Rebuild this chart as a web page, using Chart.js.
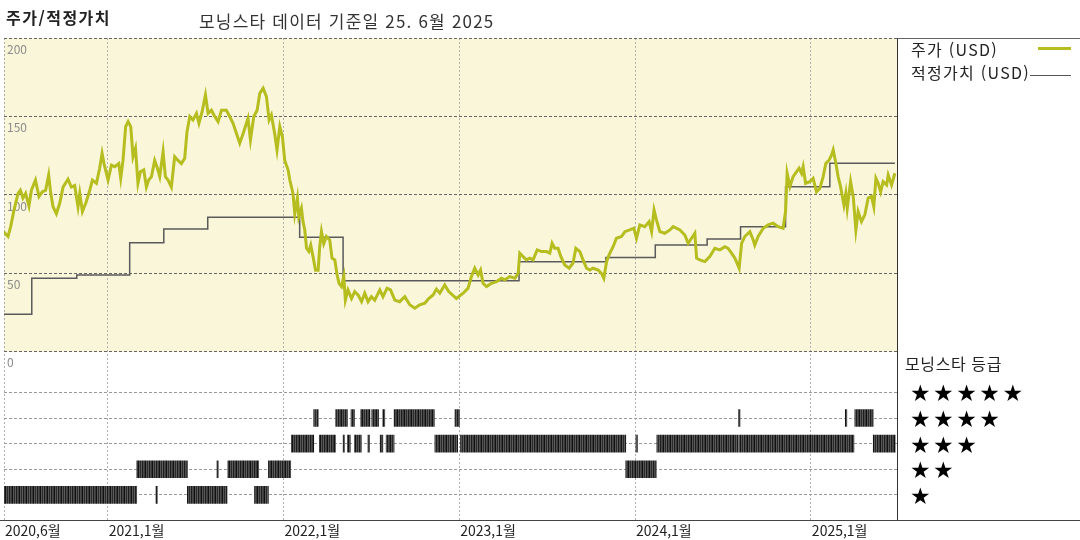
<!DOCTYPE html>
<html lang="ko">
<head>
<meta charset="utf-8">
<script src="https://cdn.jsdelivr.net/npm/chart.js@4.4.1/dist/chart.umd.min.js"></script>
<style>
  body { margin: 0; background: #fff; font-family: 'Noto Sans CJK KR', sans-serif; }
  #wrap { position: relative; width: 1080px; height: 540px; overflow: hidden; }
  #chart { position: absolute; left: 0; top: 0; }
  .t { position: absolute; white-space: nowrap; color: #222; line-height: 1; }
  .stars { position: absolute; left: 910px; font-family: 'DejaVu Sans', sans-serif; font-size: 23px; letter-spacing: 2.5px; line-height: 1; color: #000; }
</style>
</head>
<body>
<div id="wrap">
  <canvas id="chart" width="1080" height="540"></canvas>

  <div class="t" style="left:6px; top:9px; font-size:16px; font-weight:bold; letter-spacing:1.5px;">주가/적정가치</div>
  <div class="t" style="left:199px; top:12px; font-size:17px; letter-spacing:1.2px; color:#333;">모닝스타 데이터 기준일 25. 6월 2025</div>

  <!-- right side panel -->
  <div style="position:absolute; left:897px; top:38px; width:183px; height:482px; border-top:1px solid #666; border-left:1px solid #333;"></div>
  <div style="position:absolute; left:0; top:520px; width:1080px; height:1px; background:#444;"></div>

  <div class="t" style="left:911px; top:41px; font-size:16px; letter-spacing:1.3px;">주가 (USD)</div>
  <div style="position:absolute; left:1038px; top:47px; width:33px; height:3px; background:#b5bd1f;"></div>
  <div class="t" style="left:911px; top:64px; font-size:16px; letter-spacing:1.3px;">적정가치 (USD)</div>
  <div style="position:absolute; left:1030px; top:75px; width:41px; height:1px; background:#555;"></div>

  <div class="t" style="left:905px; top:355px; font-size:16px; letter-spacing:0.6px;">모닝스타 등급</div>
  <div class="stars" style="top:382px;">★★★★★</div>
  <div class="stars" style="top:408px;">★★★★</div>
  <div class="stars" style="top:434px;">★★★</div>
  <div class="stars" style="top:459px;">★★</div>
  <div class="stars" style="top:485px;">★</div>
</div>

<script>
// x values are decimal years
var xMin = 2020.41, xMax = 2025.49;
var xTickValues = [2020.41, 2021, 2022, 2023, 2024, 2025];
var xTickLabels = ['2020,6월', '2021,1월', '2022,1월', '2023,1월', '2024,1월', '2025,1월'];
var priceTicks = [0, 50, 100, 150, 200];
var starRows = [1, 2, 3, 4, 5];

// share price (USD)
var priceDates = [
  2020.408, 2020.433, 2020.448, 2020.465, 2020.490, 2020.503, 2020.518, 2020.533, 2020.552, 2020.566,
  2020.589, 2020.609, 2020.628, 2020.647, 2020.664, 2020.676, 2020.689, 2020.708, 2020.727, 2020.746,
  2020.774, 2020.793, 2020.812, 2020.831, 2020.841, 2020.856, 2020.875, 2020.898, 2020.913, 2020.936,
  2020.954, 2020.968, 2020.979, 2021.002, 2021.021, 2021.040, 2021.063, 2021.074, 2021.087, 2021.102,
  2021.116, 2021.131, 2021.144, 2021.158, 2021.172, 2021.186, 2021.205, 2021.220, 2021.233, 2021.249,
  2021.267, 2021.283, 2021.296, 2021.315, 2021.328, 2021.343, 2021.362, 2021.381, 2021.400, 2021.419,
  2021.438, 2021.451, 2021.467, 2021.485, 2021.505, 2021.519, 2021.537, 2021.556, 2021.571, 2021.590,
  2021.609, 2021.628, 2021.647, 2021.675, 2021.694, 2021.713, 2021.751, 2021.770, 2021.798, 2021.812,
  2021.831, 2021.850, 2021.865, 2021.884, 2021.903, 2021.918, 2021.931, 2021.950, 2021.963, 2021.979,
  2021.994, 2022.007, 2022.026, 2022.036, 2022.054, 2022.064, 2022.079, 2022.087, 2022.102, 2022.111,
  2022.121, 2022.131, 2022.144, 2022.155, 2022.168, 2022.182, 2022.197, 2022.206, 2022.216, 2022.229,
  2022.244, 2022.263, 2022.276, 2022.292, 2022.305, 2022.316, 2022.330, 2022.343, 2022.352, 2022.367,
  2022.387, 2022.405, 2022.424, 2022.444, 2022.462, 2022.481, 2022.500, 2022.519, 2022.548, 2022.566,
  2022.589, 2022.609, 2022.633, 2022.661, 2022.690, 2022.718, 2022.747, 2022.775, 2022.804, 2022.826,
  2022.851, 2022.870, 2022.889, 2022.917, 2022.940, 2022.984, 2023.022, 2023.050, 2023.069, 2023.088,
  2023.107, 2023.121, 2023.135, 2023.155, 2023.183, 2023.212, 2023.240, 2023.259, 2023.287, 2023.316,
  2023.335, 2023.344, 2023.363, 2023.382, 2023.401, 2023.420, 2023.443, 2023.468, 2023.496, 2023.515,
  2023.528, 2023.543, 2023.562, 2023.578, 2023.600, 2023.625, 2023.647, 2023.663, 2023.686, 2023.704,
  2023.724, 2023.743, 2023.761, 2023.790, 2023.809, 2023.822, 2023.838, 2023.852, 2023.875, 2023.894,
  2023.923, 2023.942, 2023.970, 2023.993, 2024.008, 2024.027, 2024.055, 2024.080, 2024.094, 2024.108,
  2024.122, 2024.141, 2024.169, 2024.198, 2024.217, 2024.255, 2024.283, 2024.302, 2024.321, 2024.340,
  2024.350, 2024.368, 2024.397, 2024.425, 2024.454, 2024.482, 2024.511, 2024.529, 2024.549, 2024.568,
  2024.592, 2024.606, 2024.624, 2024.653, 2024.672, 2024.681, 2024.700, 2024.729, 2024.757, 2024.786,
  2024.814, 2024.842, 2024.856, 2024.865, 2024.881, 2024.899, 2024.919, 2024.933, 2024.947, 2024.956,
  2024.970, 2024.994, 2025.013, 2025.032, 2025.051, 2025.070, 2025.085, 2025.104, 2025.118, 2025.127,
  2025.141, 2025.155, 2025.169, 2025.188, 2025.199, 2025.207, 2025.226, 2025.241, 2025.256, 2025.269,
  2025.288, 2025.307, 2025.326, 2025.345, 2025.358, 2025.370, 2025.383, 2025.397, 2025.411, 2025.431,
  2025.440, 2025.459, 2025.478
];
var priceValues = [
  76.6, 73.5, 79.8, 89.4, 101, 103, 98, 101, 93, 103,
  109.5, 99, 102, 103, 112.7, 101, 92.5, 88, 94.7, 105,
  110, 105, 106, 92.5, 101, 89.4, 94.7, 103, 109.5, 107.4,
  117, 126.5, 120, 109.5, 119, 118, 120, 110.6, 122, 143.5,
  146.7, 143.5, 124.4, 129.7, 107.4, 114.8, 116, 105, 109.5, 111.7,
  122, 117, 111.7, 127.6, 111.7, 109.5, 105, 124.4, 122, 120,
  123.4, 140.3, 150, 147.8, 152, 145.6, 153, 163.7, 152, 154,
  150, 146.7, 154, 154, 150, 145.6, 133, 139, 148.8, 135,
  150, 154, 164.7, 168, 162.6, 147.8, 151, 139, 128.7, 143.5,
  137, 122, 116, 109.5, 101, 88, 98, 86, 91.5, 83,
  77.7, 66, 64, 68, 60.7, 52, 52, 67, 76.6, 69,
  73.5, 71.3, 59.7, 58.6, 49, 43.7, 41.6, 48, 33, 39.5,
  34, 38.4, 36.3, 32, 37.4, 32, 35.2, 33, 39.5, 35.2,
  40.6, 39.5, 33, 32, 35.2, 30, 27.8, 30, 31, 34,
  36.3, 40, 37.4, 42.7, 38.4, 34, 37.4, 40.6, 48, 53.3,
  49, 52.2, 43.7, 41.6, 43.7, 44.8, 46.9, 45.9, 48, 46.9,
  50, 62.9, 60.7, 58.6, 59.7, 58.6, 65, 63.9, 63.9, 62.9,
  69.2, 66, 66, 60.7, 55.4, 53.3, 56.5, 66, 63.9, 58.6,
  53.3, 52.2, 53.3, 52.2, 50, 46.9, 57.5, 61.8, 67, 72.4,
  73.5, 76.6, 77.7, 78.8, 72.4, 80.9, 79.8, 83, 76.6, 90.4,
  84, 76.6, 75.6, 77.7, 79.8, 77.7, 74.5, 69.2, 72.4, 75.6,
  59.7, 58.6, 57.5, 60.7, 66, 65, 67, 66, 62.9, 59.7,
  53.3, 69.2, 73.5, 76.6, 71.3, 68, 73.5, 78.8, 80.9, 82,
  79.8, 78.8, 89.4, 113.8, 105.3, 111.7, 114.8, 117, 113.8, 118,
  107.4, 108.5, 110.6, 102, 104.2, 111.7, 120, 122.3, 125.5, 128.7,
  121, 111.7, 105.3, 93.6, 101, 91.5, 108.5, 99, 77.7, 89.4,
  83, 87.3, 98, 99, 92.5, 110.6, 107.4, 102, 108.5, 106.4,
  112.7, 106.4, 113.8
];

// fair value (USD), each value holds until the next date
var fairDates = [2020.41, 2020.568, 2020.824, 2021.125, 2021.319, 2021.569, 2022.092, 2022.339,
                 2023.340, 2023.834, 2024.115, 2024.410, 2024.600, 2024.856, 2025.108, 2025.478];
var fairValues = [24, 47, 49, 69.6, 78.3, 85.8, 73, 45.4, 57.5, 60.2, 68.1, 72, 79.8, 105.3, 120.2, 120.2];

// Morningstar rating periods
var ratingStart = [
  2020.41, 2021.274, 2021.453, 2021.835,
  2021.165, 2021.621, 2021.683, 2021.914, 2023.947,
  2022.045, 2022.204, 2022.339, 2022.364, 2022.404, 2022.480, 2022.550, 2022.584, 2022.861, 2023.007,
  2024.005, 2024.124, 2024.594, 2025.355,
  2022.172, 2022.296, 2022.384, 2022.439, 2022.502, 2022.565, 2022.629, 2022.975, 2024.588, 2025.196,
  2025.250
];
var ratingEnd = [
  2021.165, 2021.280, 2021.679, 2021.914,
  2021.453, 2021.627, 2021.859, 2022.041, 2024.120,
  2022.172, 2022.296, 2022.344, 2022.380, 2022.443, 2022.485, 2022.565, 2022.629, 2022.991, 2023.947,
  2024.010, 2024.588, 2025.245, 2025.480,
  2022.198, 2022.364, 2022.404, 2022.492, 2022.541, 2022.576, 2022.858, 2023.001, 2024.593, 2025.201,
  2025.354
];
var ratingStars = [
  1, 1, 1, 1,
  2, 2, 2, 2, 2,
  3, 3, 3, 3, 3, 3, 3, 3, 3, 3,
  3, 3, 3, 3,
  4, 4, 4, 4, 4, 4, 4, 4, 4, 4,
  4
];

var ctx = document.getElementById('chart').getContext('2d');

// striped fill for the rating bars
function stripePattern() {
    var c = document.createElement('canvas');
    c.width = 7; c.height = 1;
    var g = c.getContext('2d');
    ['#2a2a2a', '#5c5c5c', '#1c1c1c', '#4c4c4c', '#3a3a3a', '#111111', '#565656'].forEach(function(col, i) {
        g.fillStyle = col;
        g.fillRect(i, 0, 1, 1);
    });
    return ctx.createPattern(c, 'repeat');
}

// yellow background behind the price panel only
var panelBackground = {
    id: 'panelBackground',
    beforeDraw: function(chart) {
        var a = chart.chartArea, y = chart.scales.y;
        var c = chart.ctx;
        c.save();
        c.fillStyle = '#faf6da';
        c.fillRect(a.left, y.top, a.right - a.left, y.bottom - y.top);
        c.restore();
    }
};

var myChart = new Chart(ctx, {
    data: {
        datasets: [{
            type: 'line',
            data: priceDates.map(function(d, i) { return {x: d, y: priceValues[i]}; }),
            borderColor: '#b5bd1f',
            borderWidth: 3,
            pointRadius: 0,
            yAxisID: 'y'
        }, {
            type: 'line',
            data: fairDates.map(function(d, i) { return {x: d, y: fairValues[i]}; }),
            borderColor: '#5a5a5a',
            borderWidth: 1.5,
            stepped: true,
            pointRadius: 0,
            yAxisID: 'y'
        }, {
            type: 'bar',
            indexAxis: 'y',
            data: ratingStart.map(function(s, i) { return {x: [s, ratingEnd[i]], y: ratingStars[i]}; }),
            backgroundColor: stripePattern(),
            barThickness: 17,
            minBarLength: 1.5,
            xAxisID: 'x',
            yAxisID: 'y2'
        }]
    },
    options: {
        responsive: false,
        animation: false,
        layout: { padding: { left: 4, right: 183, top: 38, bottom: 0 } },
        scales: {
            x: {
                type: 'linear',
                min: xMin,
                max: xMax,
                offset: false,
                afterBuildTicks: function(scale) {
                    scale.ticks = xTickValues.map(function(v) { return {value: v}; });
                },
                afterFit: function(scale) { scale.height = 19.5; },
                ticks: {
                    autoSkip: false,
                    maxRotation: 0,
                    align: 'start',
                    labelOffset: 1,
                    padding: 2,
                    color: '#222',
                    font: { family: 'Noto Sans CJK KR', size: 14 },
                    callback: function(v, i) { return xTickLabels[i]; }
                },
                grid: { color: '#b0b0b0', drawTicks: false, offset: false },
                border: { display: false, dash: [2, 2] }
            },
            // rating panel (listed first so it is stacked below the price panel)
            y2: {
                type: 'linear',
                position: 'left',
                stack: 'panels',
                stackWeight: 168.5,
                min: 0,
                max: 6.58,
                offset: false,
                afterBuildTicks: function(scale) {
                    scale.ticks = starRows.map(function(v) { return {value: v}; });
                },
                afterFit: function(scale) { scale.width = 0; },
                ticks: { display: false },
                grid: { color: '#9a9a9a', drawTicks: false, offset: false },
                border: { display: false, dash: [3, 2] }
            },
            y: {
                type: 'linear',
                position: 'left',
                stack: 'panels',
                stackWeight: 313.7,
                min: 0,
                max: 200,
                afterBuildTicks: function(scale) {
                    scale.ticks = priceTicks.map(function(v) { return {value: v}; });
                },
                afterFit: function(scale) { scale.width = 0; },
                ticks: {
                    mirror: true,
                    padding: 3,
                    labelOffset: 11,
                    color: '#8c8c8c',
                    font: { family: 'Noto Sans CJK KR', size: 12 }
                },
                grid: { color: '#666', drawTicks: false },
                border: { display: false, dash: [3, 2] }
            }
        },
        plugins: {
            legend: { display: false },
            tooltip: { enabled: false }
        }
    },
    plugins: [panelBackground]
});
</script>
</body>
</html>
